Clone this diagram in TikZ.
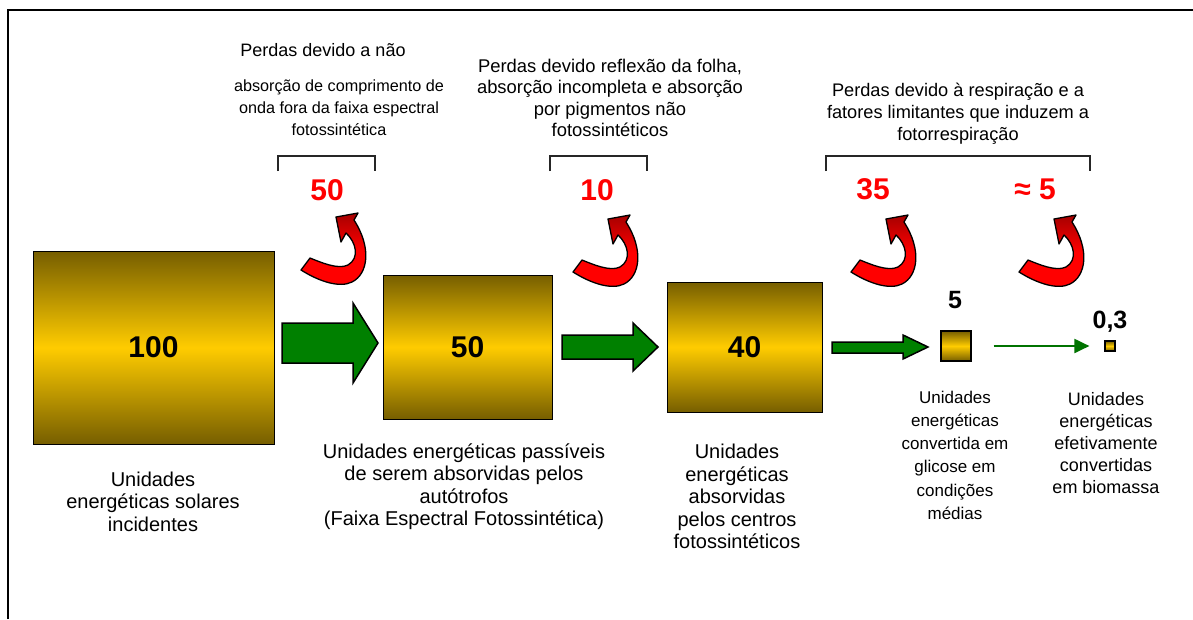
\documentclass[tikz,border=0pt]{standalone}
\usepackage{fontspec}
\setmainfont{Liberation Sans}
\usetikzlibrary{arrows.meta}
\definecolor{olivedark}{RGB}{118,94,0}
\definecolor{gold}{RGB}{255,204,0}
\definecolor{arrowgreen}{RGB}{0,128,0}
\definecolor{lossred}{RGB}{255,0,0}
\tikzset{
  energybox/.style={draw=black, line width=1pt, top color=olivedark, bottom color=olivedark, middle color=gold, inner sep=0pt, font=\fontsize{30}{36}\bfseries\selectfont},
  blockarrow/.style={fill=arrowgreen, draw=black, line width=1.5pt, line join=miter},
  lbl/.style={align=center, inner sep=0pt, font=\fontsize{18}{22}\selectfont},
  lblbig/.style={align=center, inner sep=0pt, font=\fontsize{20}{22.5}\selectfont},
  lblsmall/.style={align=center, inner sep=0pt, font=\fontsize{16.2}{22}\selectfont},
  lossnum/.style={inner sep=0pt, text=lossred, font=\fontsize{30}{36}\bfseries\selectfont},
  smallnum/.style={inner sep=0pt, font=\fontsize{25}{30}\bfseries\selectfont},
  bracket/.style={draw=black!85, line width=1.3pt},
  curlstyle/.style={draw=black, line width=1.3pt, line join=round, top color=red!65!black, bottom color=red, middle color=red},
  redcurl/.pic={
    \path[curlstyle] (0,0) .. controls (19,12) and (39,18) .. (51,12)
      .. controls (67,4) and (71,-22) .. (53,-50)
      -- (57,-57) -- (35,-53) -- (40,-28) -- (45,-37)
      .. controls (55,-28) and (59,-12) .. (47,-5)
      .. controls (37,0) and (19,-8) .. (9,-12) -- cycle;
  }
}
\begin{document}
\begin{tikzpicture}[x=1pt,y=-1pt]
\useasboundingbox (0,0) rectangle (1193,619);
\fill[white] (0,0) rectangle (1193,619);
\draw[line width=1.6pt] (8,619) -- (8,10) -- (1193,10);

% energy boxes
\node[energybox, minimum width=241pt, minimum height=193pt] (b100) at (153.5,347.5) {100};
\node[energybox, minimum width=169pt, minimum height=144pt] (b50) at (467.5,347) {50};
\node[energybox, minimum width=155pt, minimum height=130pt] (b40) at (744.5,347) {40};
\node[energybox, line width=1.3pt, minimum width=30pt, minimum height=30pt] (b5) at (956,346) {};
\node[energybox, line width=1.2pt, minimum width=10pt, minimum height=10pt] (b03) at (1110,346) {};

% numbers above small boxes
\node[smallnum] (n5) at (955,300) {5};
\node[smallnum] (n03) at (1110,322) {0,3};

% green block arrows
\path[blockarrow] (282,323) -- (353,323) -- (353,303) -- (378,343) -- (353,383) -- (353,363) -- (282,363) -- cycle;
\path[blockarrow] (562,335) -- (633,335) -- (633,323) -- (658,347) -- (633,371) -- (633,359) -- (562,359) -- cycle;
\path[blockarrow] (832,342) -- (903,342) -- (903,335) -- (928,347) -- (903,359) -- (903,353) -- (832,353) -- cycle;

% thin arrow
\draw[draw=arrowgreen!90!black, line width=2pt, -{Triangle[length=15pt,width=14pt]}, shorten <=22pt, shorten >=15pt] (b5.east) -- (b03.west);

% red curls
\pic at (301,270) {redcurl};
\pic at (573,272) {redcurl};
\pic at (851,272) {redcurl};
\pic at (1019,272) {redcurl};

% loss numbers
\node[lossnum] (l50) at (327,190) {50};
\node[lossnum] (l10) at (597,190) {10};
\node[lossnum] (l35) at (873,189) {35};
\node[lossnum] (l5) at (1035,189) {≈ 5};

% brackets
\draw[bracket] (278,171) -- (278,156) -- (375,156) -- (375,171);
\draw[bracket] (550,171) -- (550,156) -- (647,156) -- (647,171);
\draw[bracket] (826,171) -- (826,156) -- (1090,156) -- (1090,171);

% top texts
\node[lbl] (t1a) at (323,50) {Perdas devido a não};
\node[lblsmall] (t1b) at (339,108) {absorção de comprimento de\\onda fora da faixa espectral\\fotossintética};
\node[lbl, font=\fontsize{18.4}{21.5}\selectfont] (t2) at (610,98) {Perdas devido reflexão da folha,\\absorção incompleta e absorção\\por pigmentos não\\fotossintéticos};
\node[lbl, font=\fontsize{18.2}{21.7}\selectfont] (t3) at (958,113.7) {Perdas devido à respiração e a\\fatores limitantes que induzem a\\fotorrespiração};

% bottom texts
\node[lblbig] (d100) at (153,501.7) {Unidades\\energéticas solares\\incidentes};
\node[lblbig] (d50) at (464,486.5) {Unidades energéticas passíveis\\de serem absorvidas pelos\\autótrofos\\(Faixa Espectral Fotossintética)};
\node[lblbig] (d40) at (737,496.6) {Unidades\\energéticas\\absorvidas\\pelos centros\\fotossintéticos};
\node[lbl, font=\fontsize{17}{23.2}\selectfont] (d5) at (955,455.3) {Unidades\\energéticas\\convertida em\\glicose em\\condições\\médias};
\node[lbl] (d03) at (1106,442.8) {Unidades\\energéticas\\efetivamente\\convertidas\\em biomassa};
\end{tikzpicture}
\end{document}
